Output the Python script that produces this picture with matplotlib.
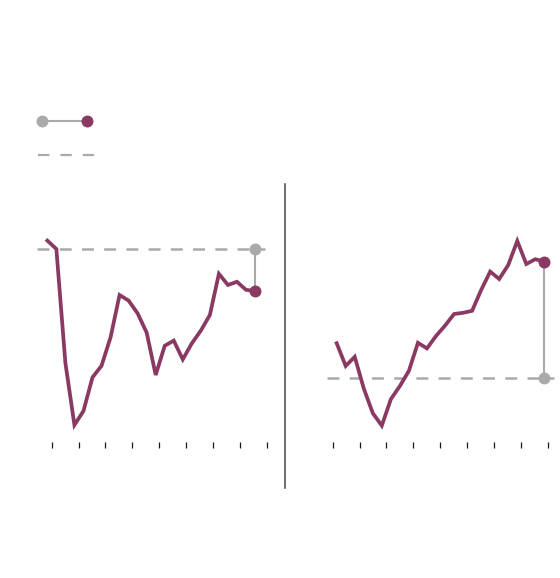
import matplotlib
matplotlib.use("Agg")
import matplotlib.pyplot as plt
from matplotlib.lines import Line2D
import numpy as np

# ---- data (index, baseline = 100) ----
left_values = [102.1, 100.0, 71.5, 56.0, 59.5, 67.9, 70.8, 77.9, 88.5, 87.1, 83.9, 79.1,
               68.5, 75.8, 77.1, 72.4, 76.4, 79.6, 83.5, 93.8, 91.0, 91.8, 89.8, 89.5]
right_values = [108.7, 103.0, 105.3, 97.4, 91.2, 88.1, 94.7, 98.0, 101.8, 108.8, 107.4, 110.5,
                113.1, 116.0, 116.3, 116.8, 122.0, 126.6, 124.75, 128.25, 134.25, 128.5, 129.7, 129.1]
left_baseline = 100.0
right_baseline = 100.0
left_ticks = [0.48 + 2.976 * k for k in range(9)]
right_ticks = [-0.44 + 2.976 * k for k in range(9)]

PURPLE = "#8a3a62"
GREY = "#aaaaaa"
plt.rcParams["lines.scale_dashes"] = False

W, H = 560, 578
fig = plt.figure(figsize=(W / 100, H / 100), dpi=100)

def px_axes(x0, x1, y_top, y_bot):
    return fig.add_axes([x0 / W, 1 - y_bot / H, (x1 - x0) / W, (y_bot - y_top) / H])

def panel(ax, values, base, ticks):
    x = np.arange(len(values))
    ax.plot([-1.1, len(values) - 1 + 1.1], [base, base], color=GREY, lw=1.8,
            dashes=(8.6, 7.4), solid_capstyle="butt", zorder=1)
    ax.plot(x, values, color=PURPLE, lw=2.7, solid_joinstyle="miter", zorder=2)
    xe = x[-1]
    ax.plot([xe, xe], [base, values[-1]], color=GREY, lw=1.5, zorder=3)
    ax.plot([xe], [base], "o", color=GREY, ms=8.6, mec="none", zorder=4)
    ax.plot([xe], [values[-1]], "o", color=PURPLE, ms=8.6, mec="none", zorder=5)
    ax.set_xticks(ticks)
    ax.set_xticklabels([])
    ax.set_yticks([])
    for s in ax.spines.values():
        s.set_visible(False)
    ax.tick_params(axis="x", length=4.6, width=0.9, color="#1a1a1a", direction="out")
    ax.patch.set_alpha(0)

# left panel: x px = 47.33 + 9.03*i ; y px = 249 - 4*(v-100)
axL = px_axes(47.33 - 9.03 * 2, 47.33 + 9.03 * 25.5, 200, 442)
axL.set_xlim(-2, 25.5)
axL.set_ylim(100 - (442 - 249) / 4, 100 + (249 - 200) / 4)
panel(axL, left_values, left_baseline, left_ticks)

# right panel: x px = 336.67 + 9.03*i ; y px = 378 - 4*(v-100)
axR = px_axes(336.67 - 9.03 * 2, 336.67 + 9.03 * 25.5, 200, 442)
axR.set_xlim(-2, 25.5)
axR.set_ylim(100 - (442 - 378) / 4, 100 + (378 - 200) / 4)
panel(axR, right_values, right_baseline, right_ticks)

def fx(p):
    return p / W

def fy(p):
    return 1 - p / H

# divider
fig.add_artist(Line2D([fx(285), fx(285)], [fy(184), fy(488)], transform=fig.transFigure,
                      color="#444444", lw=1.1))

# legend (no text)
fig.add_artist(Line2D([fx(41.7), fx(86.7)], [fy(120.5), fy(120.5)], transform=fig.transFigure,
                      color=GREY, lw=1.5))
fig.add_artist(Line2D([fx(41.7)], [fy(120.5)], transform=fig.transFigure, marker="o",
                      color=GREY, ms=8.6, mec="none", ls="none"))
fig.add_artist(Line2D([fx(86.7)], [fy(120.5)], transform=fig.transFigure, marker="o",
                      color=PURPLE, ms=8.6, mec="none", ls="none"))
fig.add_artist(Line2D([fx(37.5), fx(94.5)], [fy(155), fy(155)], transform=fig.transFigure,
                      color=GREY, lw=1.6, dashes=(8.2, 7.9), solid_capstyle="butt"))

fig.savefig("out.png", dpi=100)
